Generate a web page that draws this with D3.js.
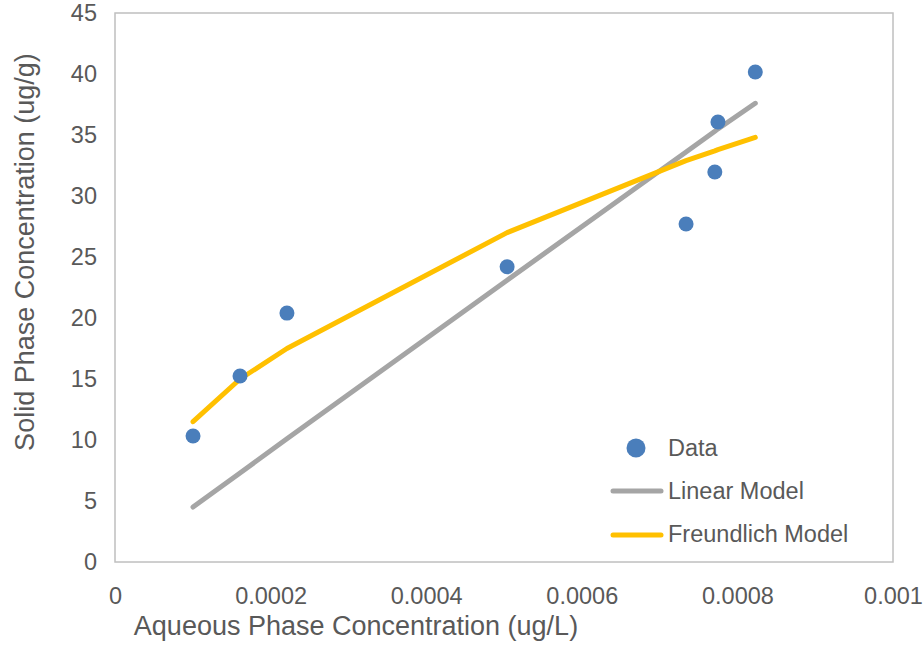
<!DOCTYPE html>
<html>
<head>
<meta charset="utf-8">
<script src="https://cdn.jsdelivr.net/npm/d3@7"></script>
<style>
  body { margin: 0; background: #fff; }
  text { font-family: "Liberation Sans", Arial, sans-serif; fill: #595959; }
</style>
</head>
<body>
<svg id="chart" width="924" height="646"></svg>
<script>
// measured points
const conc = [0.0001003, 0.0001607, 0.000221, 0.000504, 0.000734, 0.000771, 0.000775, 0.000823];
const solid = [10.33, 15.25, 20.4, 24.2, 27.7, 31.97, 36.07, 40.16];
// model curves, read at the same x values
const linearFit = [4.5, 7.3, 10.1, 23.1, 33.6, 35.3, 35.5, 37.6];
const freundlichFit = [11.5, 15.0, 17.5, 27.0, 32.9, 33.7, 33.8, 34.8];
const xTicks = [0, 0.0002, 0.0004, 0.0006, 0.0008, 0.001];
const yTicks = [0, 5, 10, 15, 20, 25, 30, 35, 40, 45];

const svg = d3.select("#chart");
const m = { left: 115, right: 893, top: 13, bottom: 562 };
const fs = 23.5;

const x = d3.scaleLinear().domain([0, 0.001]).range([m.left, m.right]);
const y = d3.scaleLinear().domain([0, 45]).range([m.bottom, m.top]);

// plot frame
svg.append("rect")
    .attr("x", m.left).attr("y", m.top)
    .attr("width", m.right - m.left).attr("height", m.bottom - m.top)
    .attr("fill", "none").attr("stroke", "#bfbfbf").attr("stroke-width", 1.5);

const fmtX = d => d === 0 ? "0" : String(+d.toFixed(4));

const xAxis = svg.append("g")
    .attr("transform", `translate(0,${m.bottom})`)
    .call(d3.axisBottom(x).tickValues(xTicks).tickFormat(fmtX).tickSize(0).tickPadding(25));
xAxis.select(".domain").remove();
xAxis.selectAll("text").attr("font-size", fs).attr("fill", "#595959");

const yAxis = svg.append("g")
    .attr("transform", `translate(${m.left},0)`)
    .call(d3.axisLeft(y).tickValues(yTicks).tickSize(0).tickPadding(18));
yAxis.select(".domain").remove();
yAxis.selectAll("text").attr("font-size", fs).attr("fill", "#595959");

// model lines
const line = d3.line().x((d, i) => x(conc[i])).y(d => y(d));

svg.append("path").datum(linearFit)
    .attr("d", line).attr("fill", "none")
    .attr("stroke", "#a5a5a5").attr("stroke-width", 5).attr("stroke-linecap", "round");

svg.append("path").datum(freundlichFit)
    .attr("d", line).attr("fill", "none")
    .attr("stroke", "#ffc000").attr("stroke-width", 5)
    .attr("stroke-linecap", "round").attr("stroke-linejoin", "round");

// data points
svg.append("g").selectAll("circle")
  .data(solid)
  .join("circle")
    .attr("cx", (d, i) => x(conc[i]))
    .attr("cy", d => y(d))
    .attr("r", 7.5)
    .attr("fill", "#4a7ebb");

// axis titles
svg.append("text")
    .attr("x", 356).attr("y", 635)
    .attr("text-anchor", "middle").attr("font-size", 27)
    .text("Aqueous Phase Concentration (ug/L)");

svg.append("text")
    .attr("transform", "translate(34,252) rotate(-90)")
    .attr("text-anchor", "middle").attr("font-size", 27)
    .text("Solid Phase Concentration (ug/g)");

// legend
const lg = svg.append("g");
lg.append("circle").attr("cx", 636).attr("cy", 448).attr("r", 9.5).attr("fill", "#4a7ebb");
lg.append("text").attr("x", 668).attr("y", 456).attr("font-size", fs).text("Data");
lg.append("line").attr("x1", 613).attr("x2", 661).attr("y1", 491).attr("y2", 491)
    .attr("stroke", "#a5a5a5").attr("stroke-width", 5).attr("stroke-linecap", "round");
lg.append("text").attr("x", 668).attr("y", 499).attr("font-size", fs).text("Linear Model");
lg.append("line").attr("x1", 613).attr("x2", 661).attr("y1", 535).attr("y2", 535)
    .attr("stroke", "#ffc000").attr("stroke-width", 5).attr("stroke-linecap", "round");
lg.append("text").attr("x", 668).attr("y", 542).attr("font-size", fs).text("Freundlich Model");
</script>
</body>
</html>
